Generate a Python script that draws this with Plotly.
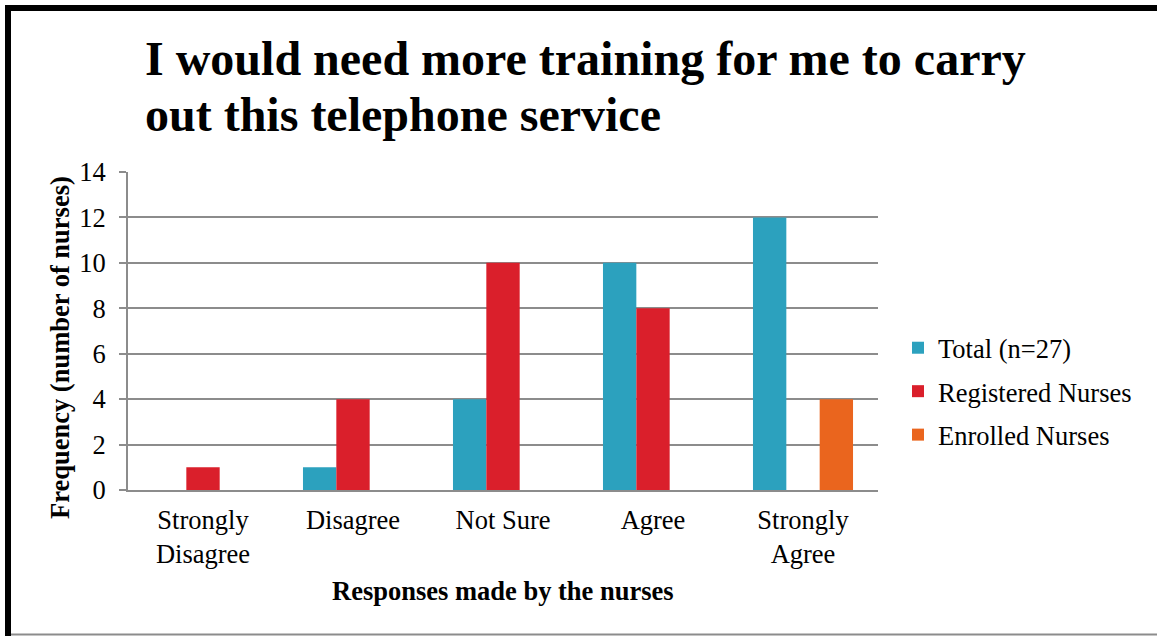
import plotly.graph_objects as go

categories = ["Strongly<br>Disagree", "Disagree", "Not Sure", "Agree", "Strongly<br>Agree"]
total = [0, 1, 4, 10, 12]
registered = [1, 4, 10, 8, 0]
enrolled = [0, 0, 0, 0, 4]

series_names = ["Total (n=27)", "Registered Nurses", "Enrolled Nurses"]
series_colors = ["#2CA1BE", "#DA1F2B", "#EA651E"]

title_lines = ["I would need more training for me to carry", "out this telephone service"]

W, H = 1157, 636
L, R, T, B = 128, 279, 172, 146
PW, PH = W - L - R, H - T - B


def px_x(p):
    return (p - L) / PW


def px_y(p):
    return (H - B - p) / PH


SERIF = "Liberation Serif, Times New Roman, serif"
FS = 26.5

fig = go.Figure()
for name, vals, col in zip(series_names, [total, registered, enrolled], series_colors):
    fig.add_trace(go.Bar(
        x=categories, y=vals, name=name, marker=dict(color=col, line=dict(width=0)),
        legendgroup=name,
    ))

grid_col = "#8C8C8C"
fig.update_layout(
    width=W, height=H,
    margin=dict(l=L, r=R, t=T, b=B),
    paper_bgcolor="white", plot_bgcolor="white",
    barmode="group", bargap=0.333, bargroupgap=0,
    font=dict(family=SERIF, size=FS, color="black"),
    xaxis=dict(
        showgrid=False, showline=True, linecolor=grid_col, linewidth=2,
        ticks="", tickfont=dict(family=SERIF, size=FS, color="black"),
        fixedrange=True, ticklabelstandoff=5,
    ),
    yaxis=dict(
        range=[0, 14], dtick=2, showgrid=True, gridcolor=grid_col, gridwidth=2,
        showline=True, linecolor=grid_col, linewidth=2,
        ticks="outside", ticklen=7, tickcolor=grid_col, tickwidth=2,
        tickfont=dict(family=SERIF, size=FS, color="black"),
        zeroline=False, ticklabelstandoff=8,
    ),
    legend=dict(
        x=px_x(898), y=px_y(324), xanchor="left", yanchor="top",
        font=dict(family=SERIF, size=FS, color="black"),
        tracegroupgap=6, traceorder="grouped", bgcolor="rgba(0,0,0,0)",
    ),
    showlegend=True,
)

# two-line chart title
for line, cy in zip(title_lines, [59, 114]):
    fig.add_annotation(
        text=f"<b>{line}</b>", xref="paper", yref="paper",
        x=px_x(143), y=px_y(cy), xanchor="left", yanchor="middle",
        showarrow=False, font=dict(family=SERIF, size=48, color="black"),
    )

fig.add_annotation(
    text="<b>Frequency (number of nurses)</b>", textangle=-90,
    xref="paper", yref="paper", x=px_x(60), y=px_y(348),
    xanchor="center", yanchor="middle", showarrow=False,
    font=dict(family=SERIF, size=FS, color="black"),
)
fig.add_annotation(
    text="<b>Responses made by the nurses</b>",
    xref="paper", yref="paper", x=px_x(503), y=px_y(591),
    xanchor="center", yanchor="middle", showarrow=False,
    font=dict(family=SERIF, size=FS, color="black"),
)

# outer frame: heavy black top and left edges, thin grey bottom edge
fig.add_shape(type="rect", xref="paper", yref="paper",
              x0=px_x(5), x1=px_x(W + 5), y0=px_y(5), y1=px_y(11),
              fillcolor="black", line=dict(width=0), layer="above")
fig.add_shape(type="rect", xref="paper", yref="paper",
              x0=px_x(5), x1=px_x(11), y0=px_y(5), y1=px_y(H + 5),
              fillcolor="black", line=dict(width=0), layer="above")
fig.add_shape(type="line", xref="paper", yref="paper",
              x0=px_x(11), x1=px_x(W + 5), y0=px_y(634.5), y1=px_y(634.5),
              line=dict(color="#8C8C8C", width=2), layer="above")

fig.write_html("out.html")
